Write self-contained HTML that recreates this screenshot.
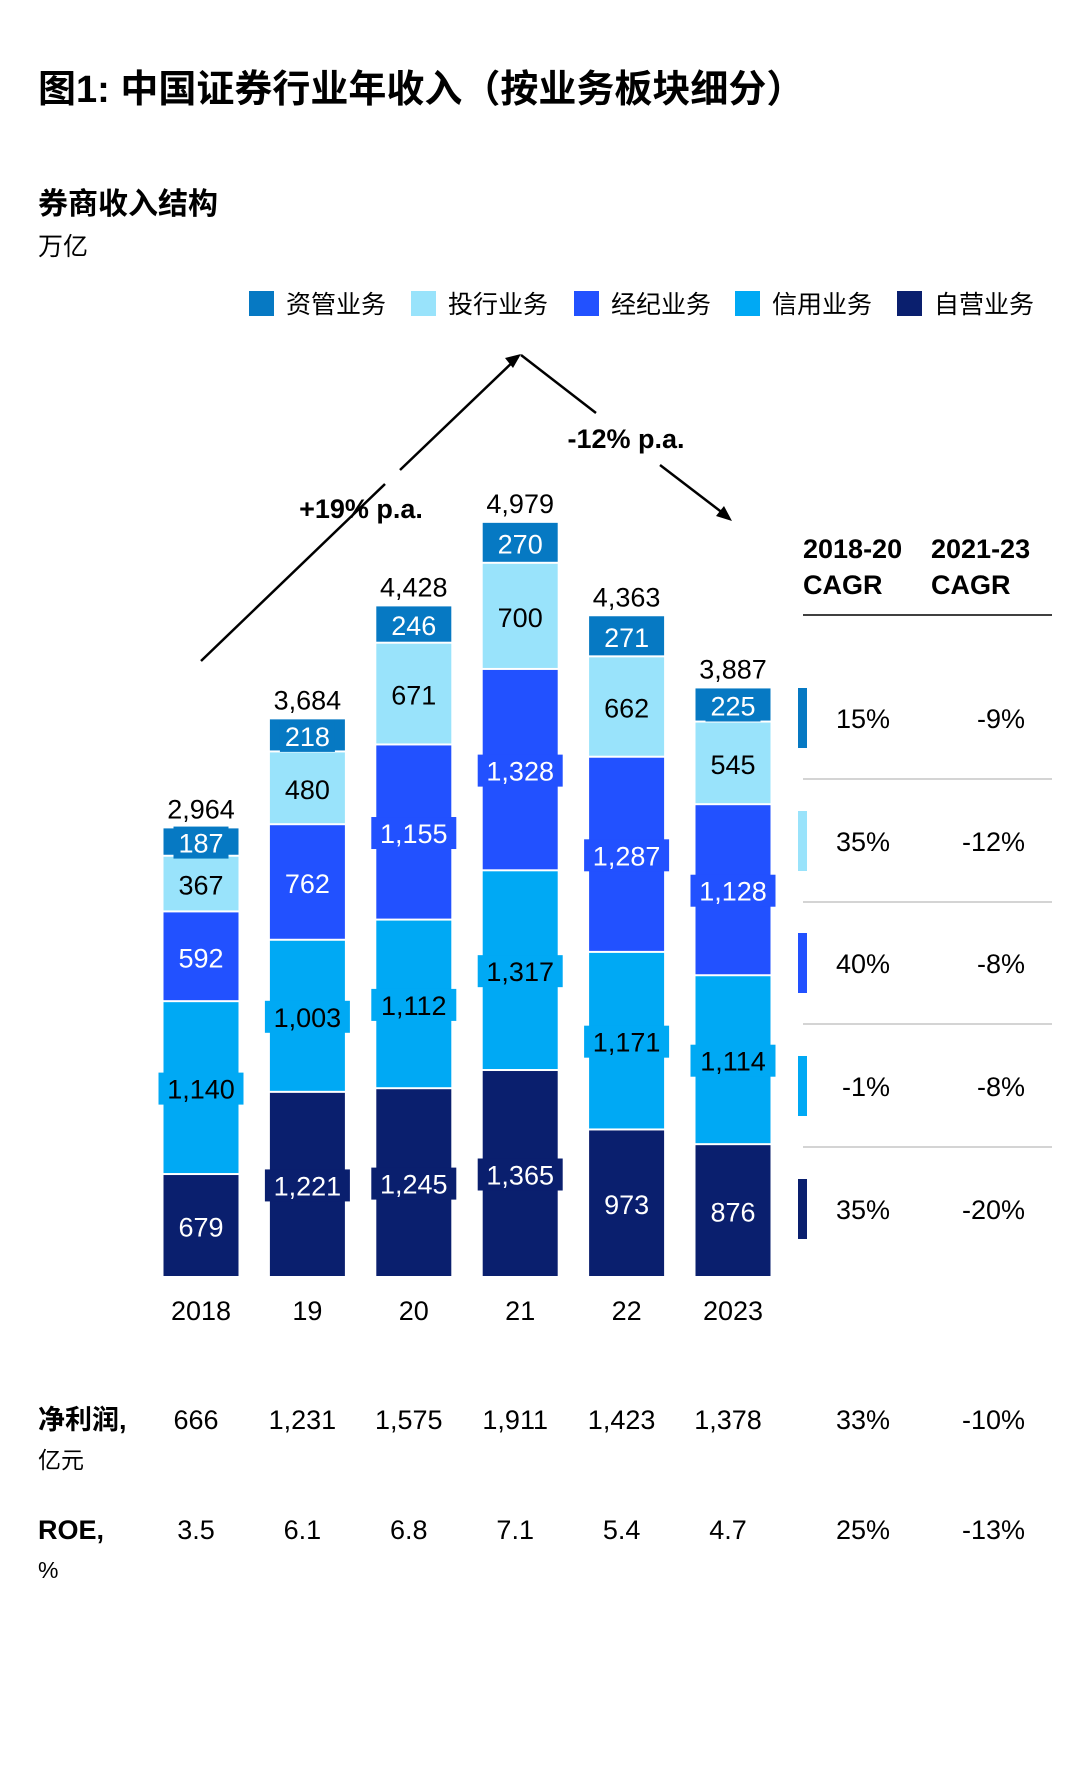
<!DOCTYPE html>
<html><head><meta charset="utf-8"><style>
body{margin:0;background:#fff;width:1080px;height:1778px;overflow:hidden;font-family:"Liberation Sans","Noto Sans CJK SC",sans-serif;}
svg{display:block}
</style></head><body>
<svg id="c" width="1080" height="1778" font-family="Liberation Sans, Noto Sans CJK SC, sans-serif">
<text x="38" y="102" font-size="38" font-weight="bold">图1: 中国证券行业年收入（按业务板块细分）</text>
<text x="38" y="214" font-size="30" font-weight="bold">券商收入结构</text>
<text x="38" y="255" font-size="25">万亿</text>
<g id="legend"></g>
<g id="bars"></g>
<g id="arrows" stroke="#000" stroke-width="2.5" fill="none">
<line x1="201" y1="661" x2="385" y2="484"/>
<line x1="400" y1="470" x2="518" y2="357"/>
<line x1="521" y1="355" x2="596" y2="413"/>
<line x1="660" y1="465" x2="728" y2="517"/>
</g>
<polygon points="521,354 505,358 513,368" fill="#000"/>
<polygon points="732,521 724,506 716,516" fill="#000"/>
<text x="361" y="518" font-size="27" font-weight="bold" text-anchor="middle">+19% p.a.</text>
<text x="626" y="448" font-size="27" font-weight="bold" text-anchor="middle">-12% p.a.</text>
<g font-size="27" font-weight="bold">
<text x="803" y="558">2018-20</text><text x="803" y="594">CAGR</text>
<text x="931" y="558">2021-23</text><text x="931" y="594">CAGR</text>
</g>
<line x1="803" y1="615" x2="1052" y2="615" stroke="#000" stroke-width="1.5"/>
<g id="cagr"></g>
<g id="bottom" font-size="27"></g>
</svg>
<script>
const categories=["2018","19","20","21","22","2023"];
const seriesNames=["自营业务","信用业务","经纪业务","投行业务","资管业务"];
const seriesColors=["#0a1f6e","#00a9f4","#2251ff","#99e3fb","#0679c3"];
const labelColors=["#fff","#000","#fff","#000","#fff"];
const proprietary=[679,1221,1245,1365,973,876];
const credit=[1140,1003,1112,1317,1171,1114];
const brokerage=[592,762,1155,1328,1287,1128];
const ibanking=[367,480,671,700,662,545];
const assetMgmt=[187,218,246,270,271,225];
const totals=[2964,3684,4428,4979,4363,3887];
const cagr1820=["35%","-1%","40%","35%","15%"];
const cagr2123=["-20%","-8%","-8%","-12%","-9%"];
const netProfit=["666","1,231","1,575","1,911","1,423","1,378"];
const netProfitCagr=["33%","-10%"];
const roe=["3.5","6.1","6.8","7.1","5.4","4.7"];
const roeCagr=["25%","-13%"];
const series=[proprietary,credit,brokerage,ibanking,assetMgmt];
const NS="http://www.w3.org/2000/svg";
function mk(t,a,p,txt){const e=document.createElementNS(NS,t);for(const k in a)e.setAttribute(k,a[k]);if(txt!==undefined)e.textContent=txt;p.appendChild(e);return e;}
const base=1278,ppu=755/4979,x0=201,step=106.4,bw=75;
const xC=i=>x0+i*step, yS=v=>v*ppu;
const fmt=v=>v.toLocaleString("en-US");
// legend
const lg=document.getElementById("legend");
const legOrder=[4,3,2,1,0],legX=[249,411,574,735,897];
legOrder.forEach((s,j)=>{
 const g=mk("g",{},lg);
 
 
 mk("rect",{x:legX[j],y:291,width:25,height:25,fill:seriesColors[s]},g);
 mk("text",{x:legX[j]+37,y:313,"font-size":25},g,seriesNames[s]);
});
// bars
const bg=document.getElementById("bars");
categories.forEach((c,i)=>{
 let y=base;
 series.forEach((arr,s)=>{
  const h=yS(arr[i]);
  const r=mk("rect",{x:xC(i)-bw/2,y:y-h,width:bw,height:Math.max(h-2,0),fill:seriesColors[s]},bg);
  
  
  const cy=y-h/2;
  const str=fmt(arr[i]);
  if(str.length>3||h<36){
   const bwid=str.length*15+10;
   const b=mk("rect",{x:xC(i)-bwid/2,y:cy-16,width:bwid,height:32,fill:seriesColors[s]},bg);
   
   
  }
  const t=mk("text",{x:xC(i),y:cy+10,"font-size":27,"text-anchor":"middle",fill:labelColors[s]},bg,str);
  
  
  y-=h;
 });
 const tt=mk("text",{x:xC(i),y:y-10,"font-size":27,"text-anchor":"middle"},bg,fmt(totals[i]));
 
 
 const xl=mk("text",{x:xC(i),y:1320,"font-size":27,"text-anchor":"middle"},bg,c);
 
 
});
// cagr table
const cg=document.getElementById("cagr");
const rowY=[1209,1086,963,841,718];
seriesNames.forEach((n,s)=>{
 const y=rowY[s];
 const r=mk("rect",{x:798,y:y-30,width:9,height:60,fill:seriesColors[s]},cg);
 
 
 const a=mk("text",{x:890,y:y+10,"font-size":27,"text-anchor":"end"},cg,cagr1820[s]);
 
 
 const b=mk("text",{x:1025,y:y+10,"font-size":27,"text-anchor":"end"},cg,cagr2123[s]);
 
 
 if(s>0){const l=mk("line",{x1:803,x2:1052,y1:y+61,y2:y+61,stroke:"#aaa","stroke-width":1},cg);
 
 }
});
// bottom rows
const bt=document.getElementById("bottom");
function row(label,unit,y,vals,cg2,name){
 const l=mk("text",{x:38,y:y,"font-weight":"bold"},bt,label);
 
 
 const u=mk("text",{x:38,y:y+39,"font-size":23},bt,unit);
 
 
 vals.forEach((v,i)=>{
  const t=mk("text",{x:xC(i)-5,y:y,"text-anchor":"middle"},bt,v);
  
  
 });
 const a=mk("text",{x:890,y:y,"text-anchor":"end"},bt,cg2[0]);
 
 
 const b=mk("text",{x:1025,y:y,"text-anchor":"end"},bt,cg2[1]);
 
 
}
row("净利润,","亿元",1429,netProfit,netProfitCagr,"net-profit");
row("ROE,","%",1539,roe,roeCagr,"roe");
</script>
</body></html>
